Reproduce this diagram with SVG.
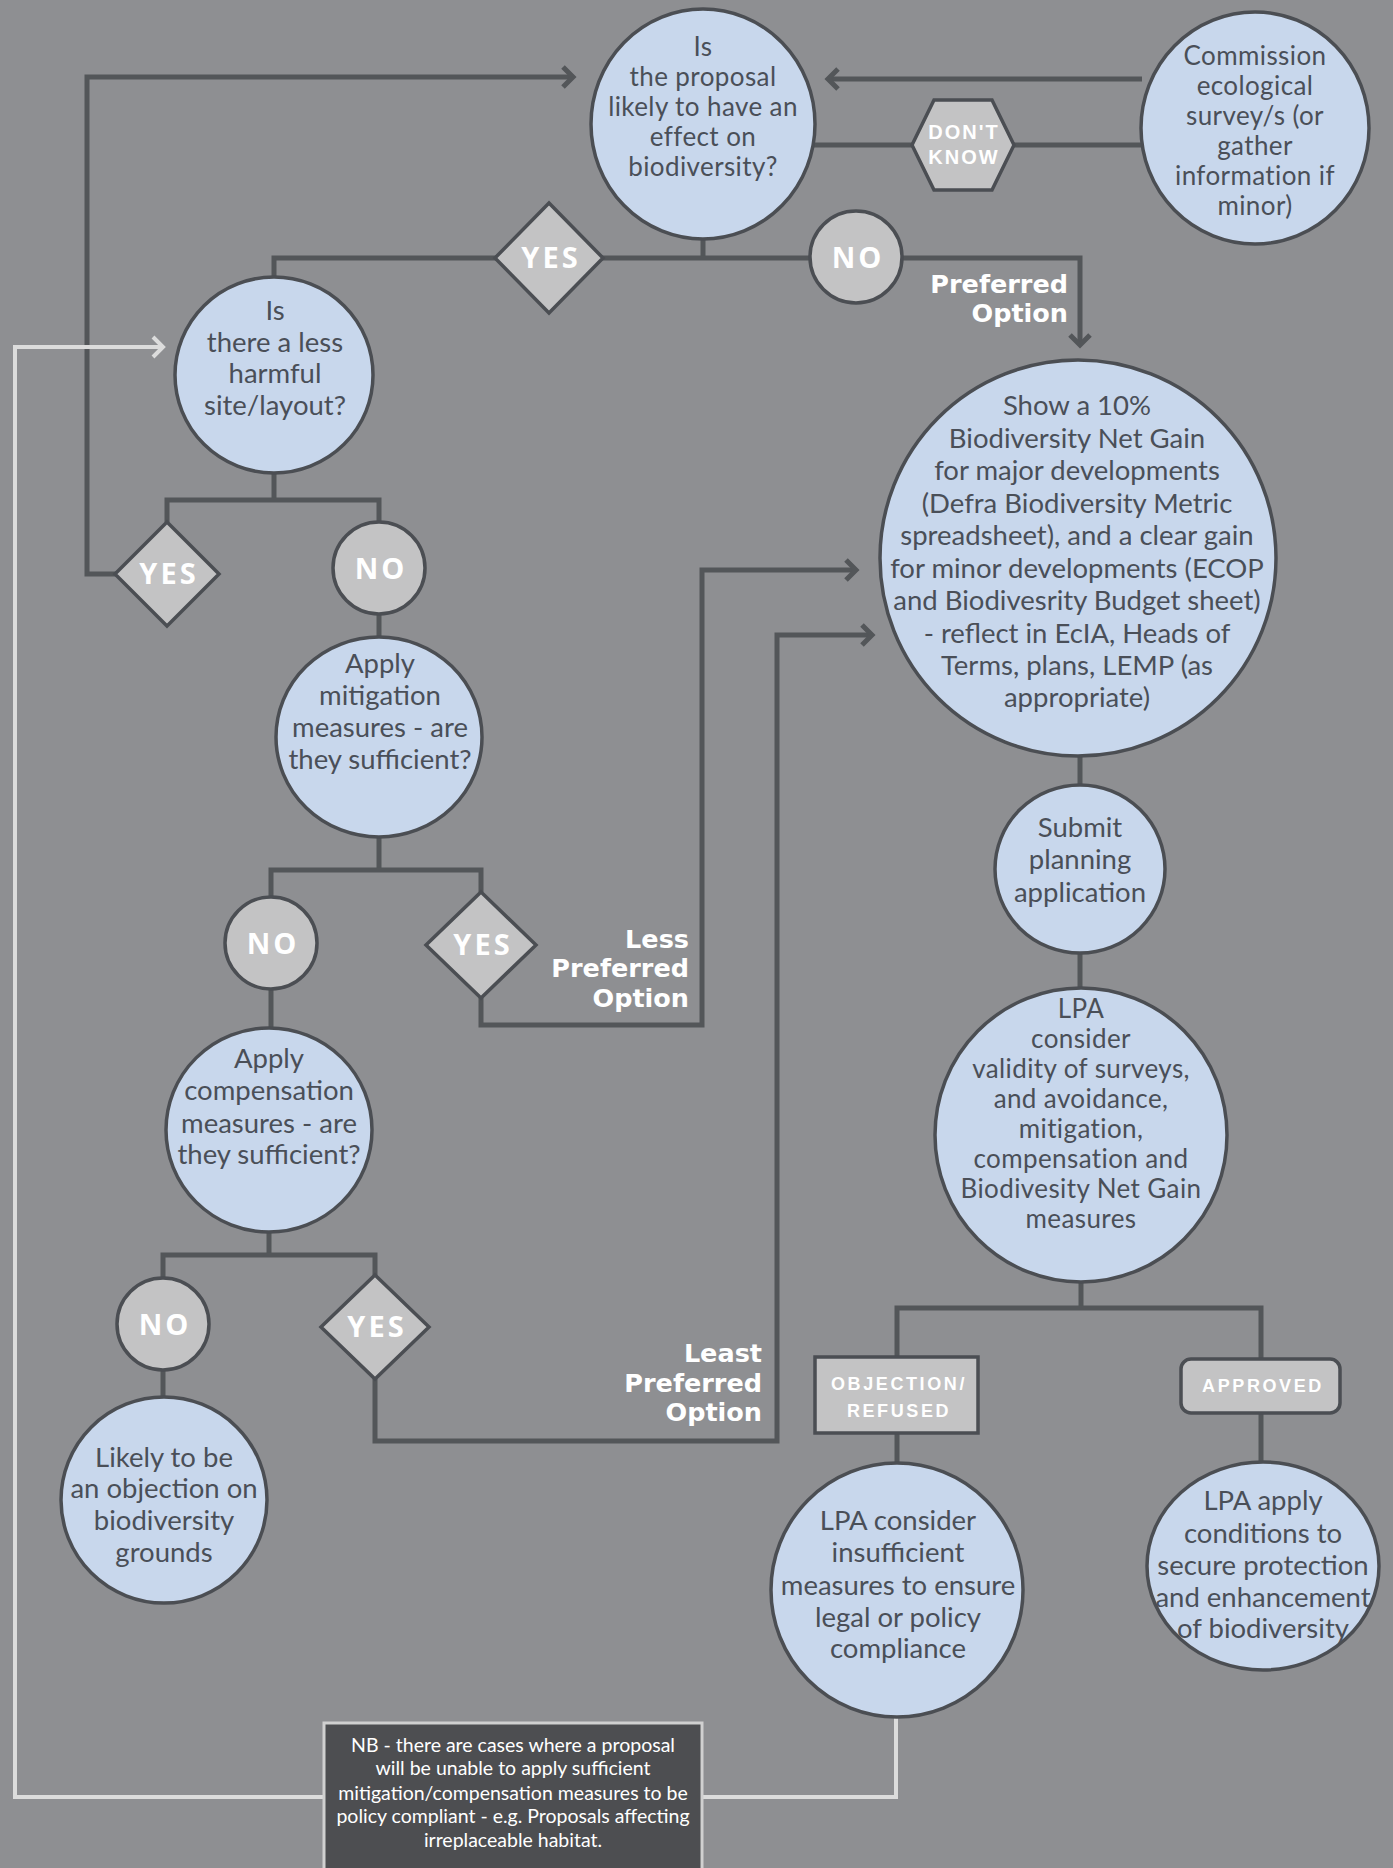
<svg xmlns="http://www.w3.org/2000/svg" width="1393" height="1868" viewBox="0 0 1393 1868">
<style>
.bg{fill:#8e8f92}
.node{fill:#c8d7ec;stroke:#4b4e53;stroke-width:3.5}
.grey{fill:#c3c3c4;stroke:#4b4e53;stroke-width:3.5}
.ln{fill:none;stroke:#535659;stroke-width:5}
.lt{fill:none;stroke:#dcdcdc;stroke-width:4}
.t{font-family:Lato,"Liberation Sans",sans-serif;font-size:27.5px;fill:#4a4f58;text-anchor:middle}
.ts{font-size:26px;letter-spacing:0.4px}
.lab{font-family:"Open Sans","Liberation Sans",sans-serif;font-weight:bold;font-size:29px;fill:#ffffff;text-anchor:middle;letter-spacing:3px}
.opt{font-family:"DejaVu Sans","Liberation Sans",sans-serif;font-weight:bold;font-size:25.5px;fill:#ffffff;text-anchor:end}
.cap{font-family:"Liberation Sans",sans-serif;font-weight:bold;font-size:18px;fill:#ffffff;text-anchor:middle;letter-spacing:2.6px}
.nb{font-family:Lato,"Liberation Sans",sans-serif;font-size:19.5px;fill:#ffffff;text-anchor:middle}
</style>
<defs>
<marker id="arr" markerUnits="userSpaceOnUse" markerWidth="24" markerHeight="26" refX="13" refY="12" orient="auto">
<path d="M3,2 L13,12 L3,22" fill="none" stroke="#535659" stroke-width="5"/>
</marker>
<marker id="arrl" markerUnits="userSpaceOnUse" markerWidth="24" markerHeight="26" refX="13" refY="12" orient="auto">
<path d="M3,2 L13,12 L3,22" fill="none" stroke="#dcdcdc" stroke-width="4"/>
</marker>
</defs>
<rect class="bg" x="0" y="0" width="1393" height="1868"/>

<g id="connectors">
<path class="ln" d="M117,574 H87 V77 H573" marker-end="url(#arr)"/>
<path class="ln" d="M1142,79 H828" marker-end="url(#arr)"/>
<path class="ln" d="M812,145 H1142"/>
<path class="ln" d="M703,238 V258"/>
<path class="ln" d="M274,278 V258 H1080 V345" marker-end="url(#arr)"/>
<path class="ln" d="M274,472 V500"/>
<path class="ln" d="M167,522 V500 H379 V522"/>
<path class="ln" d="M379,614 V638"/>
<path class="ln" d="M379,836 V870"/>
<path class="ln" d="M271,896 V870 H481 V892"/>
<path class="ln" d="M481,998 V1025 H702 V570 H856" marker-end="url(#arr)"/>
<path class="ln" d="M271,989 V1028"/>
<path class="ln" d="M269,1231 V1255"/>
<path class="ln" d="M163,1278 V1255 H375 V1275"/>
<path class="ln" d="M163,1370 V1400"/>
<path class="ln" d="M375,1379 V1441 H777 V635 H872" marker-end="url(#arr)"/>
<path class="ln" d="M1080,756 V786"/>
<path class="ln" d="M1080,952 V990"/>
<path class="ln" d="M1081,1282 V1308"/>
<path class="ln" d="M897,1358 V1308 H1261 V1360"/>
<path class="ln" d="M897,1433 V1464"/>
<path class="ln" d="M1261,1413 V1464"/>
<path class="lt" d="M324,1797 H15 V347 H163" marker-end="url(#arrl)"/>
<path class="lt" d="M702,1797 H896 V1716"/>
</g>

<g id="q1">
<ellipse class="node" cx="703" cy="124" rx="112" ry="115"/>
<text class="t ts"><tspan x="703" y="56">Is</tspan><tspan x="703" y="86">the proposal</tspan><tspan x="703" y="116">likely to have an</tspan><tspan x="703" y="146">effect on</tspan><tspan x="703" y="176">biodiversity?</tspan></text>
</g>

<g id="commission">
<ellipse class="node" cx="1255" cy="128" rx="114" ry="116"/>
<text class="t ts"><tspan x="1255" y="65">Commission</tspan><tspan x="1255" y="95">ecological</tspan><tspan x="1255" y="125">survey/s (or</tspan><tspan x="1255" y="155">gather</tspan><tspan x="1255" y="185">information if</tspan><tspan x="1255" y="215">minor)</tspan></text>
</g>

<g id="dontknow">
<polygon class="grey" points="912,145 934,100 992,100 1014,145 992,190 934,190"/>
<text class="cap" style="font-size:20px;letter-spacing:2px"><tspan x="964" y="139">DON'T</tspan><tspan x="964" y="164">KNOW</tspan></text>
</g>

<g id="yes1">
<polygon class="grey" points="549,203 603,258 549,313 495,258"/>
<text class="lab" x="551" y="268">YES</text>
</g>

<g id="no1">
<circle class="grey" cx="856" cy="257" r="46"/>
<text class="lab" x="858" y="268">NO</text>
</g>

<g id="opt-preferred">
<text class="opt"><tspan x="1068" y="293">Preferred</tspan><tspan x="1068" y="322">Option</tspan></text>
</g>

<g id="q2">
<ellipse class="node" cx="274" cy="375" rx="99" ry="98"/>
<text class="t"><tspan x="275" y="320">Is</tspan><tspan x="275" y="352">there a less</tspan><tspan x="275" y="383">harmful</tspan><tspan x="275" y="415">site/layout?</tspan></text>
</g>

<g id="yes2">
<polygon class="grey" points="167,522 219,574 167,626 115,574"/>
<text class="lab" x="169" y="584">YES</text>
</g>

<g id="no2">
<circle class="grey" cx="379" cy="568" r="46"/>
<text class="lab" x="381" y="579">NO</text>
</g>

<g id="mitigation">
<ellipse class="node" cx="379" cy="737" rx="103" ry="100"/>
<text class="t"><tspan x="380" y="673">Apply</tspan><tspan x="380" y="705">mitigation</tspan><tspan x="380" y="737">measures - are</tspan><tspan x="380" y="769">they sufficient?</tspan></text>
</g>

<g id="no3">
<circle class="grey" cx="271" cy="943" r="46"/>
<text class="lab" x="273" y="954">NO</text>
</g>

<g id="yes3">
<polygon class="grey" points="481,892 536,945 481,998 426,945"/>
<text class="lab" x="483" y="955">YES</text>
</g>

<g id="opt-less">
<text class="opt"><tspan x="689" y="948">Less</tspan><tspan x="689" y="977">Preferred</tspan><tspan x="689" y="1007">Option</tspan></text>
</g>

<g id="compensation">
<ellipse class="node" cx="269" cy="1130" rx="103" ry="102"/>
<text class="t"><tspan x="269" y="1068">Apply</tspan><tspan x="269" y="1100">compensation</tspan><tspan x="269" y="1133">measures - are</tspan><tspan x="269" y="1164">they sufficient?</tspan></text>
</g>

<g id="no4">
<circle class="grey" cx="163" cy="1324" r="46"/>
<text class="lab" x="165" y="1335">NO</text>
</g>

<g id="yes4">
<polygon class="grey" points="375,1275 429,1327 375,1379 321,1327"/>
<text class="lab" x="377" y="1337">YES</text>
</g>

<g id="opt-least">
<text class="opt"><tspan x="762" y="1362">Least</tspan><tspan x="762" y="1392">Preferred</tspan><tspan x="762" y="1421">Option</tspan></text>
</g>

<g id="likely">
<ellipse class="node" cx="164" cy="1500" rx="103" ry="103"/>
<text class="t"><tspan x="164" y="1467">Likely to be</tspan><tspan x="164" y="1498">an objection on</tspan><tspan x="164" y="1530">biodiversity</tspan><tspan x="164" y="1562">grounds</tspan></text>
</g>

<g id="bng">
<circle class="node" cx="1078" cy="558" r="198"/>
<text class="t"><tspan x="1077" y="415">Show a 10%</tspan><tspan x="1077" y="448">Biodiversity Net Gain</tspan><tspan x="1077" y="480">for major developments</tspan><tspan x="1077" y="513">(Defra Biodiversity Metric</tspan><tspan x="1077" y="545">spreadsheet), and a clear gain</tspan><tspan x="1077" y="578">for minor developments (ECOP</tspan><tspan x="1077" y="610">and Biodivesrity Budget sheet)</tspan><tspan x="1077" y="643">- reflect in EcIA, Heads of</tspan><tspan x="1077" y="675">Terms, plans, LEMP (as</tspan><tspan x="1077" y="707">appropriate)</tspan></text>
</g>

<g id="submit">
<ellipse class="node" cx="1080" cy="869" rx="85" ry="84"/>
<text class="t"><tspan x="1080" y="837">Submit</tspan><tspan x="1080" y="869">planning</tspan><tspan x="1080" y="902">application</tspan></text>
</g>

<g id="lpa-consider">
<ellipse class="node" cx="1081" cy="1135" rx="146" ry="147"/>
<text class="t ts"><tspan x="1081" y="1018">LPA</tspan><tspan x="1081" y="1048">consider</tspan><tspan x="1081" y="1078">validity of surveys,</tspan><tspan x="1081" y="1108">and avoidance,</tspan><tspan x="1081" y="1138">mitigation,</tspan><tspan x="1081" y="1168">compensation and</tspan><tspan x="1081" y="1198">Biodivesity Net Gain</tspan><tspan x="1081" y="1228">measures</tspan></text>
</g>

<g id="objection">
<rect class="grey" x="815" y="1357" width="163" height="76"/>
<text class="cap"><tspan x="899" y="1390">OBJECTION/</tspan><tspan x="899" y="1417">REFUSED</tspan></text>
</g>

<g id="approved">
<rect class="grey" x="1181" y="1359" width="159" height="54" rx="10"/>
<text class="cap" x="1263" y="1392">APPROVED</text>
</g>

<g id="lpa-insufficient">
<ellipse class="node" cx="897" cy="1590" rx="126" ry="127"/>
<text class="t"><tspan x="898" y="1530">LPA consider</tspan><tspan x="898" y="1562">insufficient</tspan><tspan x="898" y="1595">measures to ensure</tspan><tspan x="898" y="1627">legal or policy</tspan><tspan x="898" y="1658">compliance</tspan></text>
</g>

<g id="lpa-apply">
<ellipse class="node" cx="1263" cy="1566" rx="116" ry="104"/>
<text class="t"><tspan x="1263" y="1510">LPA apply</tspan><tspan x="1263" y="1543">conditions to</tspan><tspan x="1263" y="1575">secure protection</tspan><tspan x="1263" y="1607">and enhancement</tspan><tspan x="1263" y="1638">of biodiversity</tspan></text>
</g>

<g id="nb">
<rect x="324" y="1723" width="378" height="160" fill="#4d4e51" stroke="#d0d0d0" stroke-width="3"/>
<text class="nb"><tspan x="513" y="1752">NB - there are cases where a proposal</tspan><tspan x="513" y="1775">will be unable to apply sufficient</tspan><tspan x="513" y="1800">mitigation/compensation measures to be</tspan><tspan x="513" y="1823">policy compliant - e.g. Proposals affecting</tspan><tspan x="513" y="1847">irreplaceable habitat.</tspan></text>
</g>
</svg>
